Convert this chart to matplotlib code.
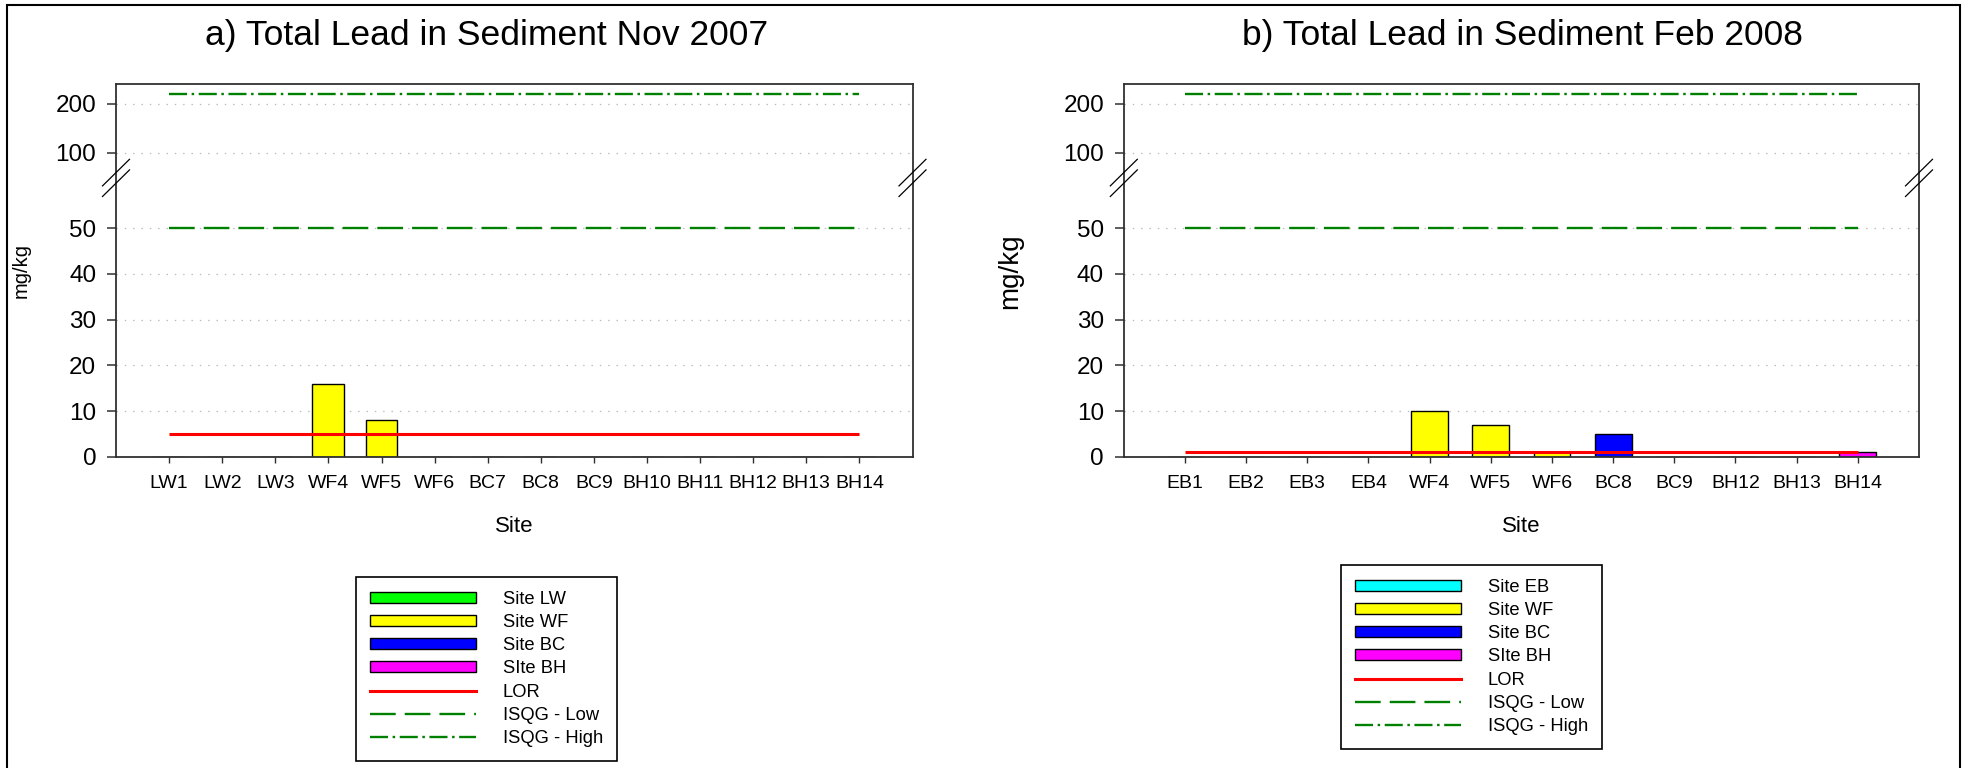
import numpy as np
import matplotlib
matplotlib.use("Agg")
import matplotlib.pyplot as plt
from matplotlib.patches import Patch, Rectangle
from matplotlib.lines import Line2D

plt.rcParams['font.family'] = ['Liberation Sans', 'DejaVu Sans']
plt.rcParams['lines.scale_dashes'] = False

# ---- data -------------------------------------------------------------
sites_nov = ['LW1', 'LW2', 'LW3', 'WF4', 'WF5', 'WF6', 'BC7', 'BC8', 'BC9',
             'BH10', 'BH11', 'BH12', 'BH13', 'BH14']
groups_nov = ['LW', 'LW', 'LW', 'WF', 'WF', 'WF', 'BC', 'BC', 'BC',
              'BH', 'BH', 'BH', 'BH', 'BH']
lead_nov = [0, 0, 0, 16, 8, 0, 0, 0, 0, 0, 0, 0, 0, 0]
lor_nov = 5

sites_feb = ['EB1', 'EB2', 'EB3', 'EB4', 'WF4', 'WF5', 'WF6', 'BC8', 'BC9',
             'BH12', 'BH13', 'BH14']
groups_feb = ['EB', 'EB', 'EB', 'EB', 'WF', 'WF', 'WF', 'BC', 'BC',
              'BH', 'BH', 'BH']
lead_feb = [0, 0, 0, 0, 10, 7, 1, 5, 0, 0, 0, 1]
lor_feb = 1

isqg_low = 50
isqg_high = 220

group_colors = {'LW': '#00FF00', 'EB': '#00FFFF', 'WF': '#FFFF00',
                'BC': '#0000FF', 'BH': '#FF00FF'}
group_labels = {'LW': 'Site LW', 'EB': 'Site EB', 'WF': 'Site WF',
                'BC': 'Site BC', 'BH': 'SIte BH'}

y_ticks = [0, 10, 20, 30, 40, 50, 100, 200]

# ---- broken y scale: linear to 50, compressed above ----------------------
K_MID = 16.48 / 50.0
K_HIGH = 10.72 / 100.0
T100 = 50 + 50 * K_MID


def fwd(y):
    y = np.asarray(y, dtype=float)
    return np.where(y <= 50, y,
                    np.where(y <= 100, 50 + (y - 50) * K_MID,
                             T100 + (y - 100) * K_HIGH))


def inv(t):
    t = np.asarray(t, dtype=float)
    return np.where(t <= 50, t,
                    np.where(t <= T100, 50 + (t - 50) / K_MID,
                             100 + (t - T100) / K_HIGH))


W, H = 1969, 768
fig = plt.figure(figsize=(W / 100, H / 100), dpi=100)

low_style = (0, (18.5, 6.5))
high_style = (0, (13, 3.3, 1.8, 3.3))
green = '#008000'
spine_c = '#303030'


def px_box(x0, x1, ytop, ybot):
    return [x0 / W, 1 - ybot / H, (x1 - x0) / W, (ybot - ytop) / H]


def draw_panel(rect, sites, groups, values, lor, ylabel_size, ylabel_x):
    ax = fig.add_axes(rect)
    ax.set_yscale('function', functions=(fwd, inv))
    x = np.arange(len(sites))
    n = len(sites)
    cols = [group_colors[g] for g in groups]
    ax.bar(x, values, width=0.6, color=cols, edgecolor='black',
           linewidth=1.0, zorder=2)
    ax.plot([0, n - 1], [lor, lor], color='#FF0000', lw=2.2, zorder=3,
            solid_capstyle='butt')
    ax.plot([0, n - 1], [isqg_low, isqg_low], color=green, lw=1.7,
            linestyle=low_style, zorder=3)
    ax.plot([0, n - 1], [isqg_high, isqg_high], color=green, lw=1.7,
            linestyle=high_style, zorder=3)
    ax.set_xlim(-1, n)
    ax.set_ylim(0, 240)
    ax.set_yticks(y_ticks)
    ax.set_yticklabels([str(v) for v in y_ticks])
    ax.set_xticks(x)
    ax.set_xticklabels(sites)
    ax.minorticks_off()
    for v in y_ticks[1:]:
        ax.axhline(v, color='#b8b8b8', lw=0.9, linestyle=(0, (1, 5)),
                   zorder=1)
    ax.tick_params(axis='y', direction='out', length=6.2, width=1.1,
                   color=spine_c, labelsize=17.5, pad=8)
    ax.tick_params(axis='x', direction='out', length=4, width=1.0,
                   color=spine_c, labelsize=14, pad=9.5)
    for s in ax.spines.values():
        s.set_color(spine_c)
        s.set_linewidth(1.3)
    ax.set_xlabel('Site', fontsize=16, labelpad=17)
    ax.set_ylabel('mg/kg', fontsize=ylabel_size)
    ax.yaxis.set_label_coords(ylabel_x / W, 1 - 270.7 / H,
                              transform=fig.transFigure)
    return ax


def break_marks(ax):
    # pair of slashes across both vertical spines between 50 and 100
    bb = ax.get_position()
    for xs in (bb.x0 * W, bb.x1 * W):
        for yc in (172.6, 183.2):
            xs_ = [xs - 13.5, xs + 13.5]
            ys_ = [yc + 13.3, yc - 13.3]
            fig.add_artist(Line2D([v / W for v in xs_],
                                  [1 - v / H for v in ys_],
                                  transform=fig.transFigure,
                                  color='black', lw=0.9, zorder=5))


def add_legend(ax, groups, x0, y0):
    order = []
    for g in groups:
        if g not in order:
            order.append(g)
    handles = [Patch(facecolor=group_colors[g], edgecolor='black', lw=1.0)
               for g in order]
    labels = [group_labels[g] for g in order]
    handles += [Line2D([], [], color='#FF0000', lw=2.2),
                Line2D([], [], color=green, lw=1.7, linestyle=low_style),
                Line2D([], [], color=green, lw=1.7, linestyle=high_style)]
    labels += ['LOR', 'ISQG - Low', 'ISQG - High']
    leg = ax.legend(handles, labels, loc='upper left',
                    bbox_to_anchor=(x0 / W, 1 - y0 / H),
                    bbox_transform=fig.transFigure, borderaxespad=0,
                    fontsize=13.2, handlelength=5.8, handleheight=0.55,
                    handletextpad=1.45, labelspacing=0.34, borderpad=0.75,
                    fancybox=False, framealpha=1, edgecolor='black')
    leg.get_frame().set_linewidth(1.2)


ax1 = draw_panel(px_box(116, 912.5, 84.3, 456.7), sites_nov, groups_nov,
                 lead_nov, lor_nov, 14.5, 31)
ax2 = draw_panel(px_box(1123.8, 1919, 84.3, 456.7), sites_feb, groups_feb,
                 lead_feb, lor_feb, 20, 1023)

break_marks(ax1)
break_marks(ax2)

add_legend(ax1, groups_nov, 356, 577)
add_legend(ax2, groups_feb, 1341, 565)

fig.text(487 / W, 1 - 35 / H, 'a) Total Lead in Sediment Nov 2007',
         ha='center', va='center', fontsize=25.5)
fig.text(1522 / W, 1 - 35 / H, 'b) Total Lead in Sediment Feb 2008',
         ha='center', va='center', fontsize=25.5)

# outer frame around the whole figure
fig.add_artist(Rectangle((7 / W, -0.05), (1960 - 7) / W, 1 - 5 / H + 0.05,
                         transform=fig.transFigure, fill=False,
                         edgecolor='black', lw=1.5))

fig.savefig('out.png', dpi=100)
